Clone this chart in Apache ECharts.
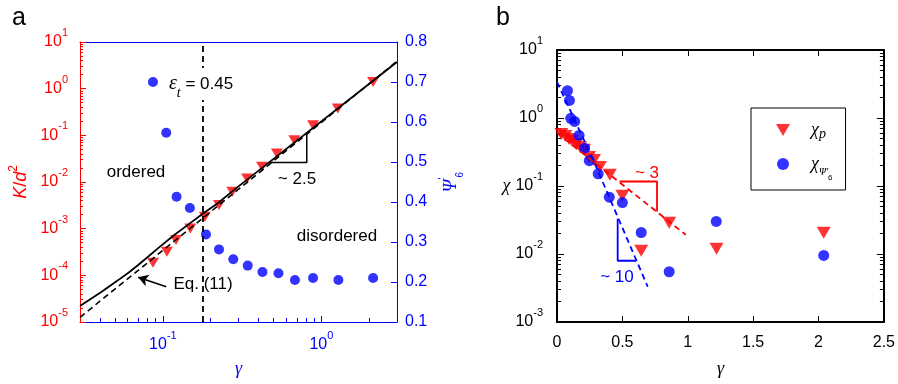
<!DOCTYPE html>
<html><head><meta charset="utf-8">
<script src="https://cdn.jsdelivr.net/npm/echarts@6/dist/echarts.min.js"></script>
<style>html,body{margin:0;padding:0;background:#fff}#c{width:898px;height:384px}</style>
</head><body><div id="c"></div>
<script>
// ---------- Panel a data ----------
const gammaK   = [0.0866,0.106,0.121,0.149,0.184,0.226,0.274,0.34,0.422,0.524,0.675,0.886,1.27,2.12];
const kOverD2  = [1.86e-4,3.2e-4,5.7e-4,1.01e-3,1.79e-3,3.2e-3,6.15e-3,0.0119,0.0211,0.0408,0.0787,0.165,0.375,1.39];
const gammaPsi = [0.0866,0.105,0.122,0.148,0.187,0.226,0.278,0.343,0.425,0.536,0.681,0.886,1.28,2.12];
const psi6     = [0.700,0.573,0.413,0.385,0.319,0.2815,0.257,0.241,0.225,0.222,0.205,0.210,0.205,0.210];
const simGamma = [0.03,0.0411,0.0523,0.0618,0.0698,0.0806,0.093,0.118,0.143,0.182,0.221,0.28,3.0];
const simK     = [2.2e-5,4.46e-5,7.9e-5,1.19e-4,1.66e-4,2.5e-4,3.78e-4,7.3e-4,1.19e-3,2.19e-3,3.47e-3,6.7e-3,3.73];
const eq11Gamma = [0.03, 3.0];
const eq11K     = [1.26e-5, 3.86];
const epsGamma  = 0.178;
const slopeAGamma = [0.461, 0.809, 0.809];
const slopeAK     = [0.0262, 0.0262, 0.1094];
const arrowGamma  = [0.105, 0.0698];
const arrowK      = [5.7e-5, 9.06e-5];
const xTicksA = [0.1, 1];
const psiTicks = [0.1, 0.8];

// ---------- Panel b data ----------
const gammaP = [0.033,0.063,0.093,0.116,0.146,0.176,0.207,0.245,0.283,0.328,0.404,0.50,0.644,0.858,1.22,2.04];
const chiP   = [0.583,0.545,0.493,0.46,0.416,0.376,0.34,0.268,0.242,0.191,0.146,0.0717,0.0112,0.0288,0.0119,0.0205];
const gammaS = [0.080,0.095,0.105,0.135,0.169,0.211,0.247,0.315,0.40,0.50,0.644,0.858,1.218,2.04];
const chiPsi = [2.52,1.81,0.99,0.89,0.555,0.36,0.236,0.151,0.0686,0.0571,0.0207,0.00548,0.0301,0.00952];
const fitPGamma = [0, 0.985];
const fitPChi   = [0.604, 0.0192];
const fitSGamma = [0, 0.277, 0.694];
const fitSChi   = [3.39, 0.242, 0.0033];
const slopePGamma = [0.4795, 0.765, 0.765];
const slopePChi   = [0.1164, 0.1164, 0.0422];
const slopeSGamma = [0.464, 0.464, 0.606];
const slopeSChi   = [0.033, 0.00796, 0.00796];

// ---------- helpers ----------
const F  = '"Liberation Sans", Arial, sans-serif';
const FI = '"Liberation Serif", serif';
const RED = '#ff0000', BLUE = '#0000ff', BLK = '#000000';
const TRI = 'path://M0,0L10,0L5,8.5Z';
const lg = Math.log10;
const pairs = (xs, ys, fx, fy) => xs.map((x, i) => [fx(x), fy(ys[i])]);
const id = v => v;
function minorLog(lo, hi) {
  const out = [];
  for (let d = Math.floor(lo) - 1; d <= Math.ceil(hi); d++)
    for (let m = 2; m <= 9; m++) { const v = d + lg(m); if (v > lo + 1e-6 && v < hi - 1e-6) out.push(v); }
  return out;
}
const supFmt = v => Math.abs(v - Math.round(v)) < 1e-6 ? '{b|10}{s|' + Math.round(v) + '}' : '';
function supRich(color, size) {
  return {
    b: { fontFamily: F, fontSize: size, color: color, lineHeight: Math.round(size * 1.8), verticalAlign: 'middle' },
    s: { fontFamily: F, fontSize: Math.round(size * 0.7), color: color, lineHeight: Math.round(size * 0.8), verticalAlign: 'top' }
  };
}
const xMinA = lg(0.03), xMaxA = lg(3);
const noZero = (c, w) => ({ show: true, onZero: false, lineStyle: { color: c, width: w } });
const hidden = { show: false, onZero: false };

const chart = echarts.init(document.getElementById('c'), null, { renderer: 'canvas' });
const option = {
  animation: false,
  backgroundColor: '#fff',
  grid: [
    { left: 80, top: 42, width: 317, height: 280 },
    { left: 557, top: 50, width: 330, height: 272 }
  ],
  legend: {
    left: 751, top: 108, orient: 'vertical',
    data: ['χp', "χΨ'6"],
    borderColor: '#000', borderWidth: 1, borderRadius: 0,
    padding: [4, 13, 8, 25], itemGap: 5, itemWidth: 14, itemHeight: 12,
    selectedMode: false,
    formatter: n => n === 'χp' ? '{c|χ}{p|p}' : "{c|χ}{s|Ψ'}{ss|6}",
    textStyle: {
      padding: [0, 0, 0, 16],
      rich: {
        c: { fontFamily: FI, fontStyle: 'italic', fontSize: 18, color: BLK, lineHeight: 36, verticalAlign: 'middle' },
        p: { fontFamily: FI, fontStyle: 'italic', fontSize: 14, color: BLK, lineHeight: 14, padding: [15, 0, 0, 0], verticalAlign: 'top' },
        s: { fontFamily: FI, fontStyle: 'italic', fontSize: 10, color: BLK, lineHeight: 10, padding: [21, 0, 0, 0], verticalAlign: 'top' },
        ss: { fontFamily: F, fontSize: 8, color: BLK, lineHeight: 8, padding: [28, 0, 0, 0], verticalAlign: 'top' }
      }
    }
  },
  xAxis: [
    { // 0 panel a bottom
      gridIndex: 0, type: 'value', min: xMinA, max: xMaxA, position: 'bottom',
      axisLine: noZero(BLUE, 1),
      axisTick: { show: true, inside: true, length: 6, lineStyle: { color: BLUE }, customValues: xTicksA.map(lg) },
      axisLabel: { customValues: xTicksA.map(lg), formatter: supFmt, rich: supRich(BLUE, 16), margin: 8 },
      splitLine: { show: false },
      name: 'γ', nameLocation: 'middle', nameGap: 38,
      nameTextStyle: { fontFamily: FI, fontStyle: 'italic', fontSize: 18, color: BLUE }
    },
    { // 1 panel a top
      gridIndex: 0, type: 'value', min: xMinA, max: xMaxA, position: 'top',
      axisLine: noZero(BLUE, 1),
      axisTick: { show: false }, axisLabel: { show: false }, splitLine: { show: false }
    },
    { // 2 panel a bottom minor ticks
      gridIndex: 0, type: 'value', min: xMinA, max: xMaxA, position: 'bottom',
      axisLine: hidden,
      axisTick: { show: true, inside: true, length: 4, lineStyle: { color: BLUE }, customValues: minorLog(xMinA, xMaxA) },
      axisLabel: { show: false }, splitLine: { show: false }
    },
    { // 3 panel b bottom
      gridIndex: 1, type: 'value', min: 0, max: 2.5, interval: 0.5, position: 'bottom',
      axisLine: noZero(BLK, 2),
      axisTick: { show: true, inside: true, length: 6, lineStyle: { color: BLK, width: 1 } },
      axisLabel: { fontFamily: F, fontSize: 16, color: BLK, margin: 13 },
      splitLine: { show: false },
      name: 'γ', nameLocation: 'middle', nameGap: 38,
      nameTextStyle: { fontFamily: FI, fontStyle: 'italic', fontSize: 18, color: BLK }
    },
    { // 4 panel b top
      gridIndex: 1, type: 'value', min: 0, max: 2.5, interval: 0.5, position: 'top',
      axisLine: noZero(BLK, 2),
      axisTick: { show: true, inside: true, length: 6, lineStyle: { color: BLK, width: 1 } },
      axisLabel: { show: false }, splitLine: { show: false }
    }
  ],
  yAxis: [
    { // 0 panel a left (log K/d^2)
      gridIndex: 0, type: 'value', min: -5, max: 1, interval: 1, position: 'left',
      axisLine: noZero(RED, 1),
      axisTick: { show: true, inside: true, length: 6, lineStyle: { color: RED } },
      axisLabel: { formatter: supFmt, rich: supRich(RED, 16), margin: 12 },
      splitLine: { show: false },
      name: '{i|K}{n|/}{i|d}{u|2}', nameLocation: 'middle', nameGap: 46, nameRotate: 90,
      nameTextStyle: { rich: {
        i: { fontFamily: F, fontStyle: 'italic', fontSize: 18, color: RED, lineHeight: 26, verticalAlign: 'middle' },
        n: { fontFamily: F, fontSize: 18, color: RED, lineHeight: 26, verticalAlign: 'middle' },
        u: { fontFamily: F, fontSize: 12, color: RED, lineHeight: 12, verticalAlign: 'top' }
      } }
    },
    { // 1 panel a right (psi'6)
      gridIndex: 0, type: 'value', min: psiTicks[0], max: psiTicks[1], interval: 0.1, position: 'right',
      axisLine: noZero(BLUE, 1),
      axisTick: { show: true, inside: true, length: 6, lineStyle: { color: BLUE } },
      axisLabel: { formatter: v => v.toFixed(1), fontFamily: F, fontSize: 16, color: BLUE, margin: 8 },
      splitLine: { show: false },
      name: "{i|Ψ}{p|'}{s|6}", nameLocation: 'middle', nameGap: 40, nameRotate: 90,
      nameTextStyle: { rich: {
        i: { fontFamily: FI, fontStyle: 'italic', fontSize: 18, color: BLUE, lineHeight: 28, verticalAlign: 'middle' },
        p: { fontFamily: F, fontSize: 11, color: BLUE, lineHeight: 12, verticalAlign: 'top' },
        s: { fontFamily: F, fontSize: 10, color: BLUE, lineHeight: 10, verticalAlign: 'bottom' }
      } }
    },
    { // 2 panel a left minor
      gridIndex: 0, type: 'value', min: -5, max: 1, position: 'left',
      axisLine: hidden,
      axisTick: { show: true, inside: true, length: 3, lineStyle: { color: RED }, customValues: minorLog(-5, 1) },
      axisLabel: { show: false }, splitLine: { show: false }
    },
    { // 3 panel b left (log chi)
      gridIndex: 1, type: 'value', min: -3, max: 1, interval: 1, position: 'left',
      axisLine: noZero(BLK, 2),
      axisTick: { show: true, inside: true, length: 7, lineStyle: { color: BLK } },
      axisLabel: { formatter: supFmt, rich: supRich(BLK, 16), margin: 14 },
      splitLine: { show: false },
      name: 'χ', nameLocation: 'middle', nameGap: 44, nameRotate: 0,
      nameTextStyle: { fontFamily: FI, fontStyle: 'italic', fontSize: 18, color: BLK }
    },
    { // 4 panel b right
      gridIndex: 1, type: 'value', min: -3, max: 1, interval: 1, position: 'right',
      axisLine: noZero(BLK, 2),
      axisTick: { show: true, inside: true, length: 7, lineStyle: { color: BLK } },
      axisLabel: { show: false }, splitLine: { show: false }
    },
    { // 5 panel b left minor
      gridIndex: 1, type: 'value', min: -3, max: 1, position: 'left',
      axisLine: hidden,
      axisTick: { show: true, inside: true, length: 4, lineStyle: { color: BLK }, customValues: minorLog(-3, 1) },
      axisLabel: { show: false }, splitLine: { show: false }
    },
    { // 6 panel b right minor
      gridIndex: 1, type: 'value', min: -3, max: 1, position: 'right',
      axisLine: hidden,
      axisTick: { show: true, inside: true, length: 4, lineStyle: { color: BLK }, customValues: minorLog(-3, 1) },
      axisLabel: { show: false }, splitLine: { show: false }
    }
  ],
  series: [
    // ----- panel a -----
    { name: 'K/d2', type: 'scatter', xAxisIndex: 0, yAxisIndex: 0,
      symbol: TRI, symbolSize: [12, 10],
      itemStyle: { color: RED }, data: pairs(gammaK, kOverD2, lg, lg) },
    { name: 'psi6', type: 'scatter', xAxisIndex: 0, yAxisIndex: 1,
      symbol: 'circle', symbolSize: 10,
      itemStyle: { color: BLUE }, data: pairs(gammaPsi, psi6, lg, id) },
    { name: 'sim', type: 'line', xAxisIndex: 0, yAxisIndex: 0, symbol: 'none',
      lineStyle: { color: BLK, width: 1.8 }, data: pairs(simGamma, simK, lg, lg) },
    { name: 'eq11', type: 'line', xAxisIndex: 0, yAxisIndex: 0, symbol: 'none',
      lineStyle: { color: BLK, width: 1.6, type: [6, 4] }, data: pairs(eq11Gamma, eq11K, lg, lg),
      markLine: {
        silent: true, animation: false, label: { show: false },
        data: [
          [{ xAxis: lg(epsGamma), yAxis: -5, symbol: 'none', lineStyle: { color: BLK, width: 1.8, type: [6, 4] } },
           { xAxis: lg(epsGamma), yAxis: 1, symbol: 'none' }],
          [{ coord: [lg(arrowGamma[0]), lg(arrowK[0])], symbol: 'none', lineStyle: { color: BLK, width: 1.6, type: 'solid' } },
           { coord: [lg(arrowGamma[1]), lg(arrowK[1])], symbol: 'arrow', symbolSize: [9, 10] }]
        ]
      } },
    { name: 'slopeA', type: 'line', xAxisIndex: 0, yAxisIndex: 0, symbol: 'none',
      lineStyle: { color: BLK, width: 1.5 }, data: pairs(slopeAGamma, slopeAK, lg, lg) },
    // ----- panel b -----
    { name: 'χp', type: 'scatter', xAxisIndex: 3, yAxisIndex: 3,
      symbol: TRI, symbolSize: [14, 12],
      itemStyle: { color: RED }, data: pairs(gammaP, chiP, id, lg) },
    { name: "χΨ'6", type: 'scatter', xAxisIndex: 3, yAxisIndex: 3,
      symbol: 'circle', symbolSize: 11,
      itemStyle: { color: BLUE }, data: pairs(gammaS, chiPsi, id, lg) },
    { name: 'fitP', type: 'line', xAxisIndex: 3, yAxisIndex: 3, symbol: 'none',
      lineStyle: { color: RED, width: 1.8, type: [6, 4] }, data: pairs(fitPGamma, fitPChi, id, lg) },
    { name: 'fitS', type: 'line', xAxisIndex: 3, yAxisIndex: 3, symbol: 'none',
      lineStyle: { color: BLUE, width: 1.8, type: [6, 4] }, data: pairs(fitSGamma, fitSChi, id, lg) },
    { name: 'slopeP', type: 'line', xAxisIndex: 3, yAxisIndex: 3, symbol: 'none',
      lineStyle: { color: RED, width: 1.8 }, data: pairs(slopePGamma, slopePChi, id, lg) },
    { name: 'slopeS', type: 'line', xAxisIndex: 3, yAxisIndex: 3, symbol: 'none',
      lineStyle: { color: BLUE, width: 1.8 }, data: pairs(slopeSGamma, slopeSChi, id, lg) }
  ],
  graphic: [
    { type: 'text', z: 100, style: { text: 'a', x: 12, y: 18, font: '25px ' + F, fill: BLK, align: 'left', verticalAlign: 'middle' } },
    { type: 'text', z: 100, style: { text: 'b', x: 496, y: 18, font: '25px ' + F, fill: BLK, align: 'left', verticalAlign: 'middle' } },
    { type: 'text', z: 100, style: { text: 'ordered', x: 136, y: 172, font: '17px ' + F, fill: BLK, align: 'center', verticalAlign: 'middle' } },
    { type: 'text', z: 100, style: { text: 'disordered', x: 337, y: 236, font: '17px ' + F, fill: BLK, align: 'center', verticalAlign: 'middle' } },
    { type: 'text', z: 100, style: { text: 'Eq. (11)', x: 203, y: 284, font: '17px ' + F, fill: BLK, align: 'center', verticalAlign: 'middle' } },
    { type: 'text', z: 100, style: { text: '~ 2.5', x: 297, y: 179, font: '17px ' + F, fill: BLK, align: 'center', verticalAlign: 'middle' } },
    { type: 'text', z: 100, style: {
        text: '{e|ε}{t|t}{n| = 0.45}', x: 201, y: 84, align: 'center', verticalAlign: 'middle',
        backgroundColor: '#fff', padding: [0, 2],
        rich: {
          e: { fontFamily: FI, fontStyle: 'italic', fontSize: 20, fill: BLK, color: BLK, lineHeight: 22, verticalAlign: 'middle' },
          t: { fontFamily: FI, fontStyle: 'italic', fontSize: 14, fill: BLK, color: BLK, lineHeight: 14, verticalAlign: 'bottom' },
          n: { fontFamily: F, fontSize: 17, fill: BLK, color: BLK, lineHeight: 32, verticalAlign: 'middle' }
        } } },
    { type: 'text', z: 100, style: { text: '~ 3', x: 647, y: 173, font: '17px ' + F, fill: RED, align: 'center', verticalAlign: 'middle' } },
    { type: 'text', z: 100, style: { text: '~ 10', x: 617, y: 277, font: '17px ' + F, fill: BLUE, align: 'center', verticalAlign: 'middle' } }
  ]
};
chart.setOption(option);
</script></body></html>
